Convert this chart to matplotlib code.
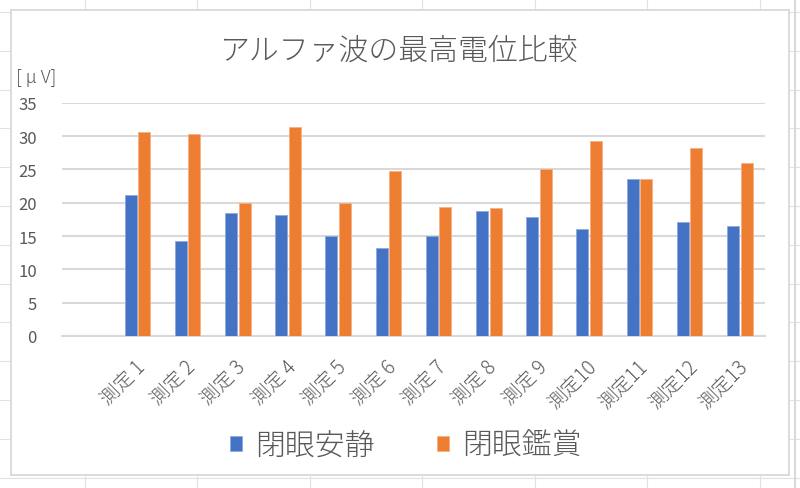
import matplotlib
matplotlib.use("Agg")
import matplotlib.pyplot as plt
import matplotlib.transforms as mtransforms
from matplotlib.lines import Line2D
from matplotlib.patches import Rectangle
import numpy as np

plt.rcParams['font.family'] = ['Noto Sans CJK JP', 'DejaVu Sans']
plt.rcParams['font.weight'] = 'light'

# first category is empty in the original sheet
categories = [''] + ['測定 %d' % i for i in range(1, 10)] + ['測定10', '測定11', '測定12', '測定13']
rest = [None, 21.1, 14.3, 18.4, 18.1, 15.0, 13.2, 15.0, 18.7, 17.8, 16.1, 23.6, 17.1, 16.5]
listen = [None, 30.6, 30.25, 19.9, 31.4, 19.9, 24.8, 19.4, 19.2, 25.0, 29.3, 23.6, 28.15, 25.9]
yticks = [0, 5, 10, 15, 20, 25, 30, 35]

BLUE = '#4472C4'
ORANGE = '#ED7D31'
GRAY = '#595959'
GRID = '#D9D9D9'

W, H = 800, 489
fig = plt.figure(figsize=(W / 100, H / 100), dpi=100)


def fx(px):
    return px / W


def fy(py):
    return 1 - py / H


# spreadsheet cells behind the chart
cell = '#E1E1E1'
for x in [84.5, 197, 309.5, 422, 534.5, 647, 759.5]:
    fig.add_artist(Line2D([fx(x), fx(x)], [0, 1], color=cell, lw=0.8, zorder=0))
for y in np.arange(13, 490, 38.8):
    fig.add_artist(Line2D([0, 1], [fy(y), fy(y)], color=cell, lw=0.8, zorder=0))
fig.add_artist(Line2D([fx(795), fx(795)], [0, 1], color=GRID, lw=1.5, zorder=0))

# chart area
fig.add_artist(Rectangle((fx(11), fy(476)), fx(789) - fx(11), fy(11) - fy(476),
                         facecolor='white', edgecolor=GRID, lw=1.3, zorder=1))

ax = fig.add_axes([fx(62), fy(337), fx(765) - fx(62), fy(103.7) - fy(337)], zorder=2)
ax.patch.set_alpha(0)

x = np.arange(len(categories))
bw = 0.24
r = [np.nan if v is None else v for v in rest]
l = [np.nan if v is None else v for v in listen]
ax.bar(x - 0.135, r, bw, color=BLUE, edgecolor='#8FAADC', lw=0.6, label='閉眼安静', zorder=3)
ax.bar(x + 0.135, l, bw, color=ORANGE, edgecolor='#F4B183', lw=0.6, label='閉眼鑑賞', zorder=3)

ax.set_xlim(-0.5, len(categories) - 0.5)
ax.set_ylim(0, 35)
ax.set_yticks(yticks)
ax.yaxis.grid(True, color=GRID, lw=1.5)
ax.set_axisbelow(True)
for s in ['top', 'right', 'left']:
    ax.spines[s].set_visible(False)
ax.spines['bottom'].set_color(GRID)
ax.spines['bottom'].set_linewidth(1.5)
ax.tick_params(axis='both', length=0, colors=GRAY, labelsize=12)
ax.tick_params(axis='y', pad=18)
for lab in ax.get_yticklabels():
    lab.set_fontweight('normal')

ax.set_xticks(x)
ax.set_xticklabels(categories, rotation=45, ha='right', rotation_mode='anchor', fontsize=14)
ax.tick_params(axis='x', pad=14)
shift = mtransforms.ScaledTranslation(-2 / 72, 0, fig.dpi_scale_trans)
for lab in ax.get_xticklabels():
    lab.set_transform(lab.get_transform() + shift)

fig.text(fx(398), fy(51), 'アルファ波の最高電位比較', ha='center', va='center',
         fontsize=21.5, color=GRAY)
fig.text(fx(16), fy(78), '[ μ V]', ha='left', va='center', fontsize=13, color=GRAY)

fig.legend(loc='center', bbox_to_anchor=(fx(406), fy(447)), ncol=2, frameon=False,
           fontsize=21.5, handlelength=0.4, handleheight=0.4, handletextpad=0.45,
           columnspacing=2.07, labelcolor=GRAY)

fig.savefig('out.png', dpi=100)
